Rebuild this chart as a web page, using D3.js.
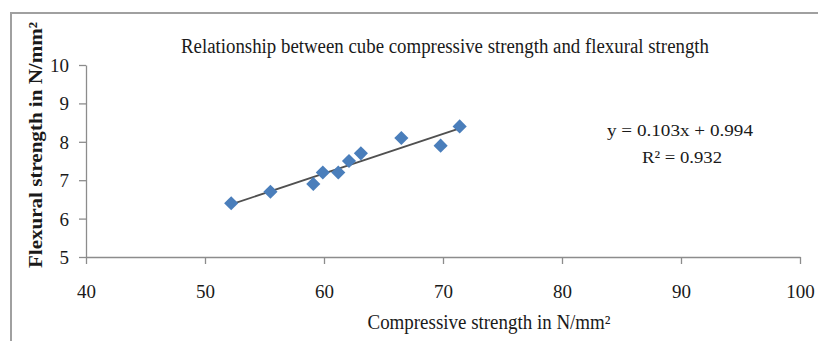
<!DOCTYPE html>
<html>
<head>
<meta charset="utf-8">
<script src="https://cdn.jsdelivr.net/npm/d3@7"></script>
<style>
  html, body { margin: 0; padding: 0; background: #fff; }
  svg { display: block; }
  text { font-family: "Liberation Serif", "Times New Roman", serif; fill: #1a1a1a; }
</style>
</head>
<body>
<svg id="chart" width="818" height="341"></svg>
<script>
// Cube compressive strength (N/mm²) vs flexural strength (N/mm²)
const compressive = [52.2, 55.5, 59.1, 59.9, 61.2, 62.1, 63.1, 66.5, 69.8, 71.4];
const flexural    = [6.4, 6.7, 6.9, 7.2, 7.2, 7.5, 7.7, 8.1, 7.9, 8.4];
const xTicks = [40, 50, 60, 70, 80, 90, 100];
const yTicks = [5, 6, 7, 8, 9, 10];
const slope = 0.103, intercept = 0.994, rSquared = 0.932;

const svg = d3.select("#chart");

// outer chart frame (top and left edges visible)
svg.append("path")
  .attr("d", "M11,341 L11,13 L818,13")
  .attr("fill", "none").attr("stroke", "#a0a0a0").attr("stroke-width", 2);

const x = d3.scaleLinear().domain([40, 100]).range([86, 800]);
const y = d3.scaleLinear().domain([5, 10]).range([257, 65]);

// fit a text element to a given width by squeezing glyphs
function fit(sel, w) {
  sel.attr("textLength", w).attr("lengthAdjust", "spacingAndGlyphs");
  return sel;
}

// x axis
const gx = svg.append("g").attr("transform", `translate(0,${y(5)})`)
  .call(d3.axisBottom(x).tickValues(xTicks).tickSize(7).tickSizeOuter(0).tickFormat(d3.format("d")));
gx.select(".domain").attr("stroke", "#8c8c8c").attr("stroke-width", 1.3);
gx.selectAll(".tick line").attr("stroke", "#8c8c8c").attr("stroke-width", 1.3);
gx.selectAll(".tick text").attr("y", 0).attr("dy", null).attr("transform", "translate(0,41)")
  .style("font-family", '"Liberation Serif", serif').style("font-size", "19px").attr("fill", "#1a1a1a");

// y axis
const gy = svg.append("g").attr("transform", `translate(${x(40)},0)`)
  .call(d3.axisLeft(y).tickValues(yTicks).tickSize(7).tickSizeOuter(0).tickFormat(d3.format("d")));
gy.select(".domain").attr("stroke", "#8c8c8c").attr("stroke-width", 1.3);
gy.selectAll(".tick line").attr("stroke", "#8c8c8c").attr("stroke-width", 1.3);
gy.selectAll(".tick text").attr("x", -17).attr("dy", "0.34em")
  .style("font-family", '"Liberation Serif", serif').style("font-size", "19px").attr("fill", "#1a1a1a");

// linear trend line over the data range
const xMin = d3.min(compressive), xMax = d3.max(compressive);
svg.append("line")
  .attr("x1", x(xMin)).attr("y1", y(slope * xMin + intercept))
  .attr("x2", x(xMax)).attr("y2", y(slope * xMax + intercept))
  .attr("stroke", "#505050").attr("stroke-width", 1.8);

// diamond markers
const pts = compressive.map((c, i) => [c, flexural[i]]);
svg.append("g").selectAll("path").data(pts).join("path")
  .attr("d", d3.symbol(d3.symbolSquare, 100))
  .attr("transform", d => `translate(${x(d[0])},${y(d[1])}) rotate(45)`)
  .attr("fill", "#4a7ebb");

// title
fit(svg.append("text").attr("x", 445).attr("y", 53).attr("text-anchor", "middle")
  .style("font-size", "20px")
  .text("Relationship between cube compressive strength and flexural strength"), 528);

// x axis title
fit(svg.append("text").attr("x", 489).attr("y", 329).attr("text-anchor", "middle")
  .style("font-size", "20px")
  .text("Compressive strength in N/mm²"), 243);

// y axis title
fit(svg.append("text").attr("transform", "translate(42,145) rotate(-90)")
  .attr("text-anchor", "middle").style("font-size", "19px").style("font-weight", "bold")
  .text("Flexural strength in N/mm²"), 246);

// regression equation
fit(svg.append("text").attr("x", 680).attr("y", 136).attr("text-anchor", "middle")
  .style("font-size", "17px")
  .text(`y = ${slope}x + ${intercept}`), 146);
fit(svg.append("text").attr("x", 682).attr("y", 163).attr("text-anchor", "middle")
  .style("font-size", "17px")
  .text(`R² = ${rSquared}`), 80);
</script>
</body>
</html>
